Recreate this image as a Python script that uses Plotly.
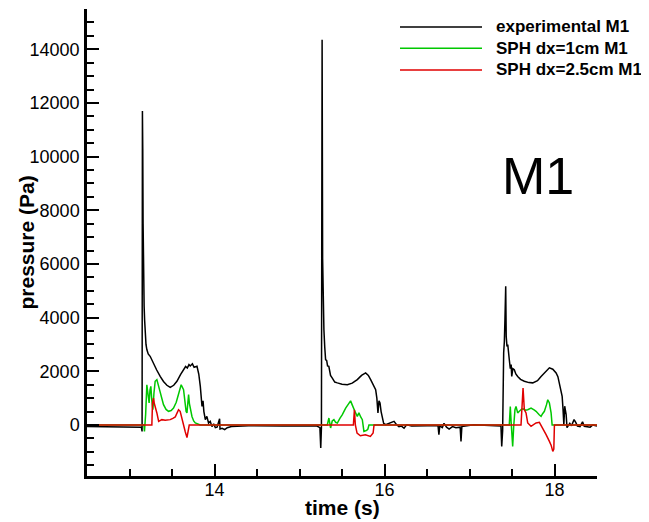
import plotly.graph_objects as go

# ---------------- data ----------------
exp_t = [12.50, 12.70, 12.90, 13.10, 13.14, 13.148, 13.152, 13.156, 13.160, 13.164, 13.168, 13.172,
         13.178, 13.184, 13.194, 13.204, 13.220, 13.243, 13.262, 13.282, 13.320, 13.361, 13.400,
         13.440, 13.479, 13.520, 13.558, 13.600, 13.636, 13.660, 13.680, 13.700, 13.715, 13.740,
         13.760, 13.794, 13.815, 13.833, 13.853, 13.865, 13.875, 13.892, 13.910, 13.930, 13.950,
         13.970, 13.990, 14.010, 14.030, 14.060, 14.065, 14.090, 14.120, 14.150, 14.200, 14.400,
         14.800, 15.200, 15.240, 15.250, 15.258, 15.266, 15.272, 15.275, 15.281, 15.287, 15.297,
         15.307, 15.320, 15.330, 15.345, 15.365, 15.386, 15.415, 15.445, 15.500, 15.563, 15.620,
         15.680, 15.730, 15.778, 15.810, 15.837, 15.870, 15.896, 15.910, 15.923, 15.935, 15.947,
         15.960, 15.975, 15.990, 16.014, 16.050, 16.080, 16.112, 16.140, 16.170, 16.200, 16.230,
         16.260, 16.290, 16.320, 16.500, 16.630, 16.640, 16.650, 16.680, 16.700, 16.730, 16.760,
         16.800, 16.840, 16.890, 16.900, 16.910, 16.950, 17.050, 17.300, 17.370, 17.379, 17.390,
         17.402, 17.410, 17.417, 17.422, 17.426, 17.432, 17.441, 17.450, 17.458, 17.468, 17.480,
         17.490, 17.497, 17.510, 17.527, 17.545, 17.567, 17.600, 17.645, 17.700, 17.744, 17.800,
         17.842, 17.900, 17.940, 17.980, 18.019, 18.040, 18.058, 18.075, 18.090, 18.100, 18.110,
         18.120, 18.137, 18.147, 18.157, 18.180, 18.200, 18.230, 18.250, 18.270, 18.300, 18.330,
         18.350, 18.380, 18.420, 18.450, 18.500]
exp_p = [-60, -70, -60, -70, -80, -240, 11700, 10300, 7500, 5900, 5200, 4430,
         3900, 3440, 3000, 2810, 2650, 2560, 2420, 2320, 2050, 1810, 1620,
         1480, 1400, 1480, 1630, 1880, 2060, 2180, 2120, 2250, 2200, 2280,
         2150, 2190, 1900, 1440, 690, 900, 500, 200, 320, 75, 135,
         -60, 40, -100, -80, 230, -150, -120, -175, -100, -60, -30,
         -40, -30, -100, -860, -100, 14350, 6200, 5300, 4200, 3555, 2900,
         2435, 2400, 2200, 2185, 1850, 1750, 1600, 1570, 1520, 1500, 1560,
         1690, 1850, 1940, 1850, 1690, 1450, 1315, 1000, 450, 900, 820,
         500, 200, 60, 10, 60, 100, 135, 20, -60, -40, -120,
         10, -30, -40, -30, -30, -360, -30, -100, 60, -80, -150,
         -60, -100, -80, -610, -60, -40, 10, -30, -40, -800, -200,
         2690, 3100, 3930, 4600, 5170, 3300, 2930, 3000, 2600, 2440, 2100,
         2250, 1810, 2100, 2060, 1900, 1810, 1700, 1630, 1580, 1570, 1650,
         1810, 2000, 2130, 2080, 1940, 1800, 1570, 1300, 1070, 600, 10,
         700, 385, -100, -50, 60, -30, 200, 100, -40, -60, 120,
         -50, -60, -80, 0, -40]

sph1_t = [12.5, 13.170, 13.176, 13.190, 13.204, 13.218, 13.231, 13.241, 13.251, 13.263, 13.275,
          13.288, 13.302, 13.322, 13.340, 13.361, 13.380, 13.400, 13.430, 13.459, 13.490, 13.518,
          13.550, 13.577, 13.608, 13.636, 13.646, 13.656, 13.666, 13.676, 13.686, 13.695, 13.705,
          13.715, 13.735, 13.755, 13.774, 13.833, 15.327, 15.346, 15.366, 15.385, 15.405, 15.425,
          15.445, 15.475, 15.504, 15.543, 15.575, 15.601, 15.620, 15.640, 15.660, 15.680, 15.699,
          15.720, 15.739, 15.758, 15.790, 15.805, 15.817, 17.468, 17.480, 17.490, 17.497, 17.508,
          17.520, 17.535, 17.547, 17.567, 17.586, 17.610, 17.630, 17.660, 17.685, 17.724, 17.760,
          17.783, 17.820, 17.842, 17.860, 17.881, 17.905, 17.921, 17.940, 17.960, 17.972, 18.5]
sph1_p = [0, 0, -240, 400, 1500, 1000, 820, 1300, 1440, 900, 570,
          1200, 1630, 1690, 1450, 1190, 950, 760, 580, 510, 540, 630,
          850, 1190, 1500, 1315, 1000, 760, 500, 450, 900, 1130, 800,
          630, 320, 150, 75, 0, 0, 260, -110, 150, 200, 100,
          75, 250, 385, 630, 780, 900, 750, 570, 450, 320, 450,
          300, 200, -240, -200, -150, 0, 0, 690, 100, -425, -800,
          -50, 570, 690, 450, 510, 580, 600, 550, 570, 630, 560,
          510, 380, 320, 420, 510, 750, 940, 820, 450, 0, 0]

sph25_t = [12.5, 13.263, 13.270, 13.282, 13.292, 13.302, 13.322, 13.343, 13.360, 13.381, 13.420,
           13.479, 13.510, 13.538, 13.560, 13.577, 13.596, 13.617, 13.636, 13.656, 13.676, 13.695,
           13.703, 15.634, 15.646, 15.657, 15.677, 15.716, 15.775, 15.834, 15.866, 15.877, 17.606,
           17.630, 17.645, 17.665, 17.685, 17.724, 17.783, 17.822, 17.862, 17.901, 17.940, 17.960,
           17.980, 17.992, 17.999, 18.5]
sph25_p = [0, 0, 800, 1000, 800, 690, 450, 135, 180, 200, 180,
           200, 250, 300, 450, 570, 510, 200, -50, -250, -470, -200,
           0, 0, 570, 0, -300, -400, -360, -425, -300, 0, 0,
           1380, 570, 450, 75, -50, 75, 100, -110, -360, -610, -750,
           -980, -900, 0, 0]

series_names = ["experimental M1", "SPH dx=1cm M1", "SPH dx=2.5cm M1"]
series_colors = ["#000000", "#00c800", "#e00000"]
x_range = [12.5, 18.5]
y_range = [-1900, 15500]

# ---------------- figure ----------------
FONT = "Liberation Sans, Arial, Helvetica, sans-serif"
fig = go.Figure()
for t, p, name, col in zip([exp_t, sph1_t, sph25_t], [exp_p, sph1_p, sph25_p], series_names, series_colors):
    fig.add_trace(go.Scatter(x=t, y=p, mode="lines", name=name,
                             line=dict(color=col, width=1.5), showlegend=False))

# page has an 8px body margin: figure occupies page x 8..649, y 8..522
OFF = 8
W, H = 649 - OFF, 522 - OFF
AX_L, AX_R, AX_T, AX_B = 87, 597, 9, 476   # plot area in page pixels
L, R, T, B = AX_L - OFF, 649 - AX_R, AX_T - OFF, 522 - AX_B
pw, ph = AX_R - AX_L, AX_B - AX_T

def px2paper(px, py):
    return (px - AX_L) / pw, (AX_B - py) / ph

shapes, annotations = [], []
legend_rows_y = [27, 48.3, 70]
for yy, name, col in zip(legend_rows_y, series_names, series_colors):
    x0, y0 = px2paper(400, yy)
    x1, _ = px2paper(482, yy)
    shapes.append(dict(type="line", xref="paper", yref="paper", x0=x0, x1=x1, y0=y0, y1=y0,
                       line=dict(color=col, width=1.5)))
    tx, _ = px2paper(494, yy)
    annotations.append(dict(text=f"<b>{name}</b>", xref="paper", yref="paper", x=tx, y=y0,
                            xanchor="left", yanchor="middle", showarrow=False,
                            font=dict(family=FONT, size=17, color="black")))

mx, my = px2paper(538, 176)
annotations.append(dict(text="M1", xref="paper", yref="paper", x=mx, y=my, xanchor="center",
                        yanchor="middle", showarrow=False, font=dict(family=FONT, size=52, color="black")))
annotations.append(dict(text="<b>time (s)</b>", xref="paper", yref="paper", x=0.5, y=0, yshift=-31,
                        xanchor="center", yanchor="middle", showarrow=False,
                        font=dict(family=FONT, size=21, color="black")))
annotations.append(dict(text="<b>pressure (Pa)</b>", xref="paper", yref="paper", x=0, y=0.5, xshift=-61,
                        xanchor="center", yanchor="middle", textangle=-90, showarrow=False,
                        font=dict(family=FONT, size=21, color="black")))

axis_common = dict(showline=True, linecolor="black", linewidth=2.5, mirror=False, showgrid=False,
                   zeroline=False, ticks="inside", ticklen=12, tickwidth=2, tickcolor="black",
                   tickformat="d", tickfont=dict(family=FONT, size=18, color="black"))
fig.update_xaxes(range=x_range, dtick=2, tick0=0, ticklabelstandoff=-4,
                 minor=dict(dtick=0.5, ticks="inside", ticklen=7, tickwidth=1.5, tickcolor="black"),
                 **axis_common)
fig.update_yaxes(range=y_range, dtick=2000, tick0=0, ticklabelstandoff=1,
                 minor=dict(dtick=500, ticks="inside", ticklen=7, tickwidth=1.5, tickcolor="black"),
                 **axis_common)
fig.update_layout(width=W, height=H, margin=dict(l=L, r=R, t=T, b=B, autoexpand=False),
                  plot_bgcolor="white", paper_bgcolor="white", shapes=shapes, annotations=annotations,
                  font=dict(family=FONT, color="black"), showlegend=False)
fig.write_html("out.html")
